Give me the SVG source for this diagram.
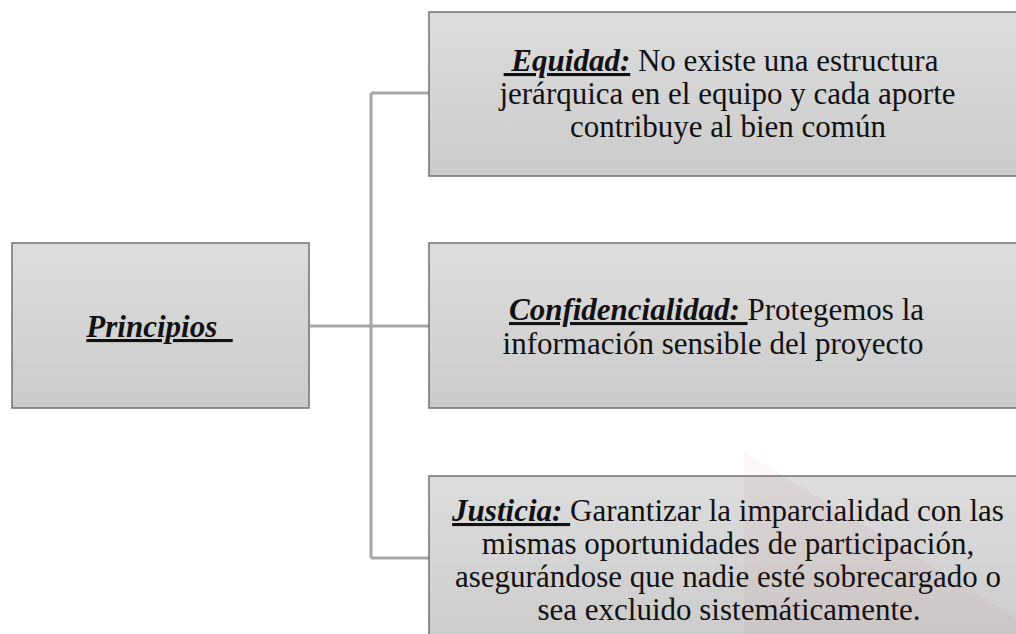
<svg xmlns="http://www.w3.org/2000/svg" width="1016" height="634" viewBox="0 0 1016 634">
  <defs>
    <linearGradient id="boxGrad" x1="0" y1="0" x2="0" y2="1">
      <stop offset="0" stop-color="#dddddd"/>
      <stop offset="1" stop-color="#cbcbcb"/>
    </linearGradient>
    <style>
      .box { fill: url(#boxGrad); stroke: #707070; stroke-width: 1.5; }
      .conn { fill: none; stroke: #a6a6a6; stroke-width: 3; }
      .t { font-family: "Liberation Serif", "Times New Roman", serif; font-size: 31px; fill: #111111; text-anchor: middle; white-space: pre; }
      .k { font-weight: bold; font-style: italic; text-decoration: underline; }
    </style>
  </defs>
  <rect width="1016" height="634" fill="#ffffff"/>

  <g id="connectors">
    <path class="conn" d="M310 326 H371"/>
    <path class="conn" d="M371 93 V558"/>
    <path class="conn" d="M371 93 H429"/>
    <path class="conn" d="M371 326 H429"/>
    <path class="conn" d="M371 558 H429"/>
  </g>

  <g id="node-principios">
    <rect class="box" x="12" y="243" width="297" height="165"/>
    <text class="t" x="159.5" y="337"><tspan class="k">Principios  </tspan></text>
  </g>

  <g id="node-equidad">
    <rect class="box" x="429" y="12" width="600" height="164"/>
    <text class="t" x="721" y="71"><tspan class="k"> Equidad:</tspan> No existe una estructura</text>
    <text class="t" x="727.5" y="104">jerárquica en el equipo y cada aporte</text>
    <text class="t" x="728" y="137">contribuye al bien común</text>
  </g>

  <g id="node-confidencialidad">
    <rect class="box" x="429" y="243" width="600" height="165"/>
    <text class="t" x="716.5" y="320"><tspan class="k">Confidencialidad: </tspan>Protegemos la</text>
    <text class="t" x="713" y="354">información sensible del proyecto</text>
  </g>

  <g id="node-justicia">
    <rect class="box" x="429" y="476" width="600" height="170"/>
    <text class="t" x="728" y="521"><tspan class="k">Justicia: </tspan>Garantizar la imparcialidad con las</text>
    <text class="t" x="728" y="554">mismas oportunidades de participación,</text>
    <text class="t" x="728" y="587">asegurándose que nadie esté sobrecargado o</text>
    <text class="t" x="729" y="620">sea excluido sistemáticamente.</text>
  </g>

  <polygon points="744,452 1016,618 1016,634 744,634" fill="#b03040" opacity="0.045"/>
</svg>
